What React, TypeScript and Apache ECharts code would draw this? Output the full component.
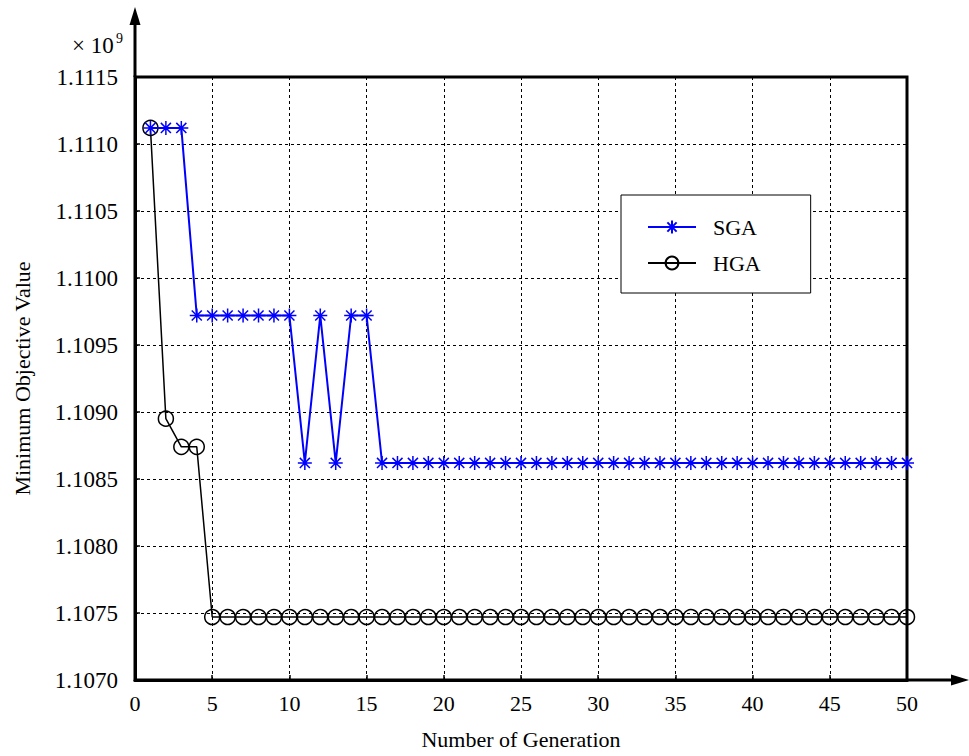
import React, { useEffect, useRef } from "react";
import * as echarts from "echarts";

const generations = [
  1, 2, 3, 4, 5, 6, 7, 8, 9, 10, 11, 12, 13, 14, 15, 16, 17, 18, 19, 20, 21, 22, 23, 24, 25,
  26, 27, 28, 29, 30, 31, 32, 33, 34, 35, 36, 37, 38, 39, 40, 41, 42, 43, 44, 45, 46, 47, 48, 49, 50,
];

// values in units of 1e9
const sga = [
  1.11112, 1.11112, 1.11112, 1.10972, 1.10972, 1.10972, 1.10972, 1.10972, 1.10972, 1.10972,
  1.10862, 1.10972, 1.10862, 1.10972, 1.10972, 1.10862, 1.10862, 1.10862, 1.10862, 1.10862,
  1.10862, 1.10862, 1.10862, 1.10862, 1.10862, 1.10862, 1.10862, 1.10862, 1.10862, 1.10862,
  1.10862, 1.10862, 1.10862, 1.10862, 1.10862, 1.10862, 1.10862, 1.10862, 1.10862, 1.10862,
  1.10862, 1.10862, 1.10862, 1.10862, 1.10862, 1.10862, 1.10862, 1.10862, 1.10862, 1.10862,
];

const hga = [
  1.11112, 1.10895, 1.10874, 1.10874, 1.10747, 1.10747, 1.10747, 1.10747, 1.10747, 1.10747,
  1.10747, 1.10747, 1.10747, 1.10747, 1.10747, 1.10747, 1.10747, 1.10747, 1.10747, 1.10747,
  1.10747, 1.10747, 1.10747, 1.10747, 1.10747, 1.10747, 1.10747, 1.10747, 1.10747, 1.10747,
  1.10747, 1.10747, 1.10747, 1.10747, 1.10747, 1.10747, 1.10747, 1.10747, 1.10747, 1.10747,
  1.10747, 1.10747, 1.10747, 1.10747, 1.10747, 1.10747, 1.10747, 1.10747, 1.10747, 1.10747,
];

const seriesNames = ["SGA", "HGA"];
const xLabelName = "Number of Generation";
const yLabelName = "Minimum Objective Value";

const FONT = '"Liberation Serif", "Times New Roman", serif';

export default function App() {
  const ref = useRef<HTMLDivElement>(null);

  useEffect(() => {
    if (!ref.current) return;
    const chart = echarts.init(ref.current, undefined, { renderer: "svg" });

    const gridLeft = 135;
    const gridTop = 77;
    const gridRight = 907;
    const gridBottom = 680;

    const option: any = {
      animation: false,
      backgroundColor: "#fff",
      textStyle: { fontFamily: FONT },
      grid: {
        left: gridLeft,
        top: gridTop,
        right: 969 - gridRight,
        bottom: 756 - gridBottom,
        outerBoundsMode: "none",
        containLabel: false,
        show: true,
        borderColor: "#000",
        borderWidth: 3,
        backgroundColor: "transparent",
      },
      legend: {
        orient: "vertical",
        left: 621,
        top: 195,
        padding: [21, 50, 19, 26],
        itemWidth: 48,
        itemHeight: 16,
        itemGap: 14,
        borderColor: "#000",
        borderWidth: 1,
        backgroundColor: "#fff",
        textStyle: {
          fontFamily: FONT,
          fontSize: 22,
          color: "#000",
          padding: [0, 0, 0, 12],
        },
        data: seriesNames,
      },
      xAxis: {
        type: "value",
        min: 0,
        max: 50,
        interval: 5,
        name: xLabelName,
        nameLocation: "middle",
        nameGap: 48,
        nameTextStyle: { fontFamily: FONT, fontSize: 22, color: "#000" },
        axisLine: { show: true, lineStyle: { color: "#000", width: 3 } },
        axisTick: { show: true, inside: true, length: 5, lineStyle: { color: "#000", width: 1.5 } },
        axisLabel: { fontFamily: FONT, fontSize: 22, color: "#000", margin: 12 },
        splitLine: { show: true, lineStyle: { color: "#000", width: 1, type: [3, 3] } },
      },
      yAxis: {
        type: "value",
        min: 1.107,
        max: 1.1115,
        interval: 0.0005,
        name: yLabelName,
        nameLocation: "middle",
        nameGap: 102,
        nameTextStyle: { fontFamily: FONT, fontSize: 22, color: "#000" },
        axisLine: { show: true, lineStyle: { color: "#000", width: 3 } },
        axisTick: { show: true, inside: true, length: 5, lineStyle: { color: "#000", width: 1.5 } },
        axisLabel: {
          fontFamily: FONT,
          fontSize: 23,
          color: "#000",
          margin: 17,
          formatter: (v: number) => v.toFixed(4),
        },
        splitLine: { show: true, lineStyle: { color: "#000", width: 1, type: [3, 3] } },
      },
      series: [
        {
          name: seriesNames[0],
          type: "line",
          data: generations.map((g, i) => [g, sga[i]]),
          symbol: "path://M0,-1L0,1M-1,0L1,0M-0.72,-0.72L0.72,0.72M-0.72,0.72L0.72,-0.72",
          symbolSize: 14,
          symbolKeepAspect: true,
          showAllSymbol: true,
          clip: false,
          z: 3,
          lineStyle: { color: "#0000ff", width: 2 },
          itemStyle: { color: "#0000ff", borderColor: "#0000ff", borderWidth: 1.5 },
        },
        {
          name: seriesNames[1],
          type: "line",
          data: generations.map((g, i) => [g, hga[i]]),
          symbol: "circle",
          symbolSize: 15,
          showAllSymbol: true,
          clip: false,
          z: 2,
          lineStyle: { color: "#000", width: 1.5 },
          itemStyle: { color: "rgba(0,0,0,0)", borderColor: "#000", borderWidth: 1.5 },
        },
      ],
      graphic: [
        {
          type: "line",
          shape: { x1: gridLeft, y1: gridTop, x2: gridLeft, y2: 20 },
          style: { stroke: "#000", lineWidth: 3 },
          z: 10,
        },
        {
          type: "polygon",
          shape: { points: [[gridLeft, 7], [gridLeft - 5.5, 25], [gridLeft + 5.5, 25]] },
          style: { fill: "#000" },
          z: 10,
        },
        {
          type: "line",
          shape: { x1: gridRight, y1: gridBottom, x2: 956, y2: gridBottom },
          style: { stroke: "#000", lineWidth: 3 },
          z: 10,
        },
        {
          type: "polygon",
          shape: { points: [[969, gridBottom], [951, gridBottom - 5.5], [951, gridBottom + 5.5]] },
          style: { fill: "#000" },
          z: 10,
        },
        {
          type: "text",
          left: 72,
          top: 34,
          style: { text: "× 10", fontFamily: FONT, fontSize: 23, fill: "#000" },
          z: 10,
        },
        {
          type: "text",
          left: 116,
          top: 31,
          style: { text: "9", fontFamily: FONT, fontSize: 14, fill: "#000" },
          z: 10,
        },
      ],
    };

    chart.setOption(option);
    return () => chart.dispose();
  }, []);

  return (
    <div
      ref={ref}
      style={{ position: "fixed", left: 0, top: 0, width: 969, height: 756, background: "#fff" }}
    />
  );
}
